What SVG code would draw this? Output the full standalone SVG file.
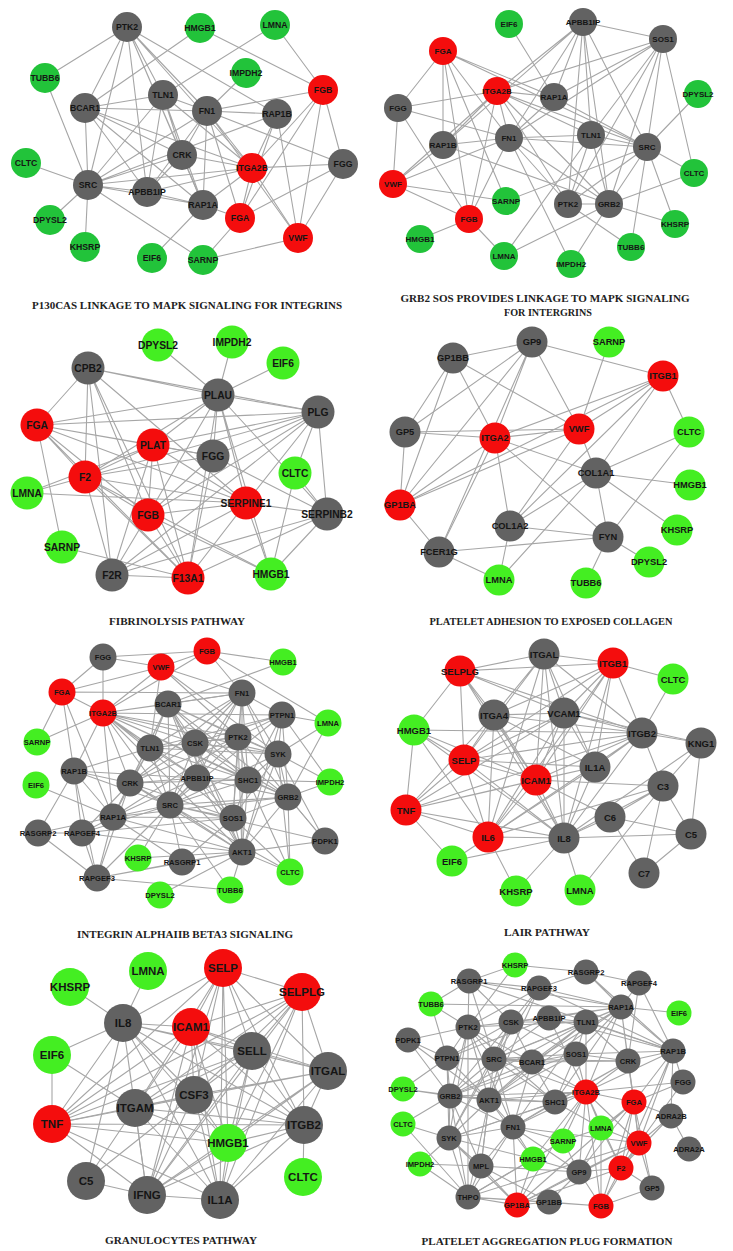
<svg xmlns="http://www.w3.org/2000/svg" width="733" height="1251" viewBox="0 0 733 1251">
<style>
.bg{fill:#ffffff}
.e path{stroke:#a6a6a6;stroke-width:1.1;fill:none}
.n text{font-family:"Liberation Sans",Arial,sans-serif;font-weight:bold;text-anchor:middle;dominant-baseline:central;fill:#151515}
.gy circle{fill:#626262}
.rd circle{fill:#f40d0d}
.gn circle{fill:#22c33a}
.gl circle{fill:#44ee22}
#p1 text{font-size:8.7px}
#p2 text{font-size:8px}
#p3 text{font-size:10.3px}
#p4 text{font-size:9.3px}
#p5 text{font-size:7.6px}
#p6 text{font-size:9.5px}
#p7 text{font-size:11.5px}
#p8 text{font-size:7.6px}
#p1 text.cap,#p2 text.cap,#p3 text.cap,#p4 text.cap,#p5 text.cap,#p6 text.cap,#p7 text.cap,#p8 text.cap{font-family:"Liberation Serif","Times New Roman",serif;font-weight:bold;font-size:11px;fill:#222;text-anchor:middle}
</style>
<rect class="bg" x="0" y="0" width="733" height="1251"/>

<!-- ===== Panel 1 ===== -->
<g id="p1">
<g id="p1-edges" class="e">
<path d="M127 27L45 78M127 27L85 108M127 27L88 185M127 27L147 192M127 27L163 95M127 27L182 155M127 27L207 111M127 27L277 114M127 27L252 168M127 27L203 205"/>
<path d="M200 28L85 108M200 28L323 90M275 25L323 90M275 25L163 95M246 73L207 111M323 90L207 111M323 90L252 168M323 90L240 218M323 90L298 238M323 90L343 164"/>
<path d="M85 108L163 95M85 108L207 111M85 108L88 185M85 108L182 155M85 108L147 192M85 108L252 168M85 108L203 205"/>
<path d="M163 95L207 111M163 95L182 155M163 95L88 185M163 95L147 192M163 95L203 205M163 95L252 168"/>
<path d="M207 111L277 114M207 111L182 155M207 111L88 185M207 111L252 168M207 111L240 218M207 111L343 164M207 111L298 238M207 111L203 205M207 111L147 192"/>
<path d="M277 114L88 185M277 114L252 168M277 114L240 218M277 114L298 238M182 155L88 185M182 155L147 192M182 155L203 205M182 155L252 168"/>
<path d="M252 168L88 185M252 168L147 192M252 168L240 218M252 168L298 238M252 168L343 164M252 168L203 205M343 164L240 218M343 164L298 238"/>
<path d="M88 185L26 163M88 185L50 220M88 185L85 247M88 185L45 78M88 185L147 192M88 185L203 205M88 185L203 260M203 205L152 258M203 205L240 218M147 192L203 205M240 218L203 260M298 238L203 260"/>
</g>
<g id="p1-PTK2" class="n gy"><circle cx="127" cy="27" r="15"/><text x="127" y="27">PTK2</text></g>
<g id="p1-HMGB1" class="n gn"><circle cx="200" cy="28" r="15"/><text x="200" y="28">HMGB1</text></g>
<g id="p1-LMNA" class="n gn"><circle cx="275" cy="25" r="15"/><text x="275" y="25">LMNA</text></g>
<g id="p1-TUBB6" class="n gn"><circle cx="45" cy="78" r="15"/><text x="45" y="78">TUBB6</text></g>
<g id="p1-IMPDH2" class="n gn"><circle cx="246" cy="73" r="15"/><text x="246" y="73">IMPDH2</text></g>
<g id="p1-FGB" class="n rd"><circle cx="323" cy="90" r="15"/><text x="323" y="90">FGB</text></g>
<g id="p1-TLN1" class="n gy"><circle cx="163" cy="95" r="15"/><text x="163" y="95">TLN1</text></g>
<g id="p1-BCAR1" class="n gy"><circle cx="85" cy="108" r="15"/><text x="85" y="108">BCAR1</text></g>
<g id="p1-FN1" class="n gy"><circle cx="207" cy="111" r="15"/><text x="207" y="111">FN1</text></g>
<g id="p1-RAP1B" class="n gy"><circle cx="277" cy="114" r="15"/><text x="277" y="114">RAP1B</text></g>
<g id="p1-CLTC" class="n gn"><circle cx="26" cy="163" r="15"/><text x="26" y="163">CLTC</text></g>
<g id="p1-CRK" class="n gy"><circle cx="182" cy="155" r="15"/><text x="182" y="155">CRK</text></g>
<g id="p1-ITGA2B" class="n rd"><circle cx="252" cy="168" r="15"/><text x="252" y="168">ITGA2B</text></g>
<g id="p1-FGG" class="n gy"><circle cx="343" cy="164" r="15"/><text x="343" y="164">FGG</text></g>
<g id="p1-SRC" class="n gy"><circle cx="88" cy="185" r="15"/><text x="88" y="185">SRC</text></g>
<g id="p1-APBB1IP" class="n gy"><circle cx="147" cy="192" r="15"/><text x="147" y="192">APBB1IP</text></g>
<g id="p1-RAP1A" class="n gy"><circle cx="203" cy="205" r="15"/><text x="203" y="205">RAP1A</text></g>
<g id="p1-FGA" class="n rd"><circle cx="240" cy="218" r="15"/><text x="240" y="218">FGA</text></g>
<g id="p1-DPYSL2" class="n gn"><circle cx="50" cy="220" r="15"/><text x="50" y="220">DPYSL2</text></g>
<g id="p1-VWF" class="n rd"><circle cx="298" cy="238" r="15"/><text x="298" y="238">VWF</text></g>
<g id="p1-KHSRP" class="n gn"><circle cx="85" cy="247" r="15"/><text x="85" y="247">KHSRP</text></g>
<g id="p1-EIF6" class="n gn"><circle cx="152" cy="258" r="15"/><text x="152" y="258">EIF6</text></g>
<g id="p1-SARNP" class="n gn"><circle cx="203" cy="260" r="15"/><text x="203" y="260">SARNP</text></g>
<text class="cap" x="187" y="309" textLength="310" lengthAdjust="spacingAndGlyphs">P130CAS LINKAGE TO MAPK SIGNALING FOR INTEGRINS</text>
</g>

<!-- ===== Panel 2 ===== -->
<g id="p2">
<g id="p2-edges" class="e">
<path d="M509 24L554 97M583 22L663 39M583 22L497 91M583 22L554 97M583 22L509 138M583 22L591 135M583 22L568 204M583 22L647 147M583 22L609 204M583 22L443 145"/>
<path d="M663 39L497 91M663 39L554 97M663 39L509 138M663 39L591 135M663 39L647 147M663 39L568 204M663 39L609 204M663 39L694 173"/>
<path d="M443 51L398 108M443 51L554 97M443 51L443 145M443 51L469 219M443 51L506 201M443 51L509 138M443 51L647 147"/>
<path d="M497 91L398 108M497 91L554 97M497 91L443 145M497 91L393 184M497 91L469 219M497 91L509 138M497 91L591 135M497 91L647 147M497 91L568 204M497 91L609 204"/>
<path d="M554 97L509 138M554 97L647 147M398 108L509 138M398 108L393 184M398 108L469 219M443 145L509 138M443 145L393 184M443 145L609 204"/>
<path d="M509 138L393 184M509 138L591 135M509 138L647 147M509 138L568 204M509 138L609 204M509 138L469 219M509 138L571 264"/>
<path d="M591 135L647 147M591 135L568 204M591 135L609 204M591 135L504 256"/>
<path d="M647 147L698 94M647 147L694 173M647 147L675 224M647 147L631 247M647 147L568 204M647 147L609 204M647 147L506 201"/>
<path d="M393 184L506 201M393 184L469 219M568 204L609 204M568 204L631 247M609 204L504 256M609 204L571 264M609 204L675 224M609 204L694 173M469 219L420 239M469 219L504 256"/>
</g>
<g id="p2-EIF6" class="n gn"><circle cx="509" cy="24" r="14"/><text x="509" y="24">EIF6</text></g>
<g id="p2-APBB1IP" class="n gy"><circle cx="583" cy="22" r="14"/><text x="583" y="22">APBB1IP</text></g>
<g id="p2-SOS1" class="n gy"><circle cx="663" cy="39" r="14"/><text x="663" y="39">SOS1</text></g>
<g id="p2-FGA" class="n rd"><circle cx="443" cy="51" r="14"/><text x="443" y="51">FGA</text></g>
<g id="p2-ITGA2B" class="n rd"><circle cx="497" cy="91" r="14"/><text x="497" y="91">ITGA2B</text></g>
<g id="p2-RAP1A" class="n gy"><circle cx="554" cy="97" r="14"/><text x="554" y="97">RAP1A</text></g>
<g id="p2-DPYSL2" class="n gn"><circle cx="698" cy="94" r="14"/><text x="698" y="94">DPYSL2</text></g>
<g id="p2-FGG" class="n gy"><circle cx="398" cy="108" r="14"/><text x="398" y="108">FGG</text></g>
<g id="p2-RAP1B" class="n gy"><circle cx="443" cy="145" r="14"/><text x="443" y="145">RAP1B</text></g>
<g id="p2-FN1" class="n gy"><circle cx="509" cy="138" r="14"/><text x="509" y="138">FN1</text></g>
<g id="p2-TLN1" class="n gy"><circle cx="591" cy="135" r="14"/><text x="591" y="135">TLN1</text></g>
<g id="p2-SRC" class="n gy"><circle cx="647" cy="147" r="14"/><text x="647" y="147">SRC</text></g>
<g id="p2-CLTC" class="n gn"><circle cx="694" cy="173" r="14"/><text x="694" y="173">CLTC</text></g>
<g id="p2-VWF" class="n rd"><circle cx="393" cy="184" r="14"/><text x="393" y="184">VWF</text></g>
<g id="p2-SARNP" class="n gn"><circle cx="506" cy="201" r="14"/><text x="506" y="201">SARNP</text></g>
<g id="p2-PTK2" class="n gy"><circle cx="568" cy="204" r="14"/><text x="568" y="204">PTK2</text></g>
<g id="p2-GRB2" class="n gy"><circle cx="609" cy="204" r="14"/><text x="609" y="204">GRB2</text></g>
<g id="p2-FGB" class="n rd"><circle cx="469" cy="219" r="14"/><text x="469" y="219">FGB</text></g>
<g id="p2-KHSRP" class="n gn"><circle cx="675" cy="224" r="14"/><text x="675" y="224">KHSRP</text></g>
<g id="p2-HMGB1" class="n gn"><circle cx="420" cy="239" r="14"/><text x="420" y="239">HMGB1</text></g>
<g id="p2-TUBB6" class="n gn"><circle cx="631" cy="247" r="14"/><text x="631" y="247">TUBB6</text></g>
<g id="p2-LMNA" class="n gn"><circle cx="504" cy="256" r="14"/><text x="504" y="256">LMNA</text></g>
<g id="p2-IMPDH2" class="n gn"><circle cx="571" cy="264" r="14"/><text x="571" y="264">IMPDH2</text></g>
<text class="cap" x="545" y="301.5" textLength="289" lengthAdjust="spacingAndGlyphs">GRB2 SOS PROVIDES LINKAGE TO MAPK SIGNALING</text>
<text class="cap" x="548" y="315.5" textLength="88" lengthAdjust="spacingAndGlyphs">FOR INTERGRINS</text>
</g>

<!-- ===== Panel 3 ===== -->
<g id="p3">
<g id="p3-edges" class="e">
<path d="M158 345L218 395M232 342L218 395M283 363L218 395"/>
<path d="M88 368L218 395M88 368L318 412M88 368L37 425M88 368L85 477M88 368L148 515M88 368L188 578M88 368L246 503M88 368L112 575"/>
<path d="M218 395L37 425M218 395L318 412M218 395L153 445M218 395L213 456M218 395L85 477M218 395L148 515M218 395L246 503M218 395L188 578M218 395L271 574M218 395L327 514"/>
<path d="M318 412L37 425M318 412L153 445M318 412L85 477M318 412L148 515M318 412L246 503M318 412L295 473M318 412L327 514M318 412L112 575M318 412L213 456"/>
<path d="M37 425L153 445M37 425L85 477M37 425L148 515M37 425L246 503M37 425L188 578M37 425L62 547M37 425L213 456"/>
<path d="M153 445L85 477M153 445L213 456M153 445L148 515M153 445L246 503M153 445L188 578M153 445L112 575M153 445L27 493"/>
<path d="M213 456L85 477M213 456L148 515M213 456L188 578M213 456L327 514M295 473L271 574M295 473L327 514"/>
<path d="M85 477L27 493M85 477L148 515M85 477L188 578M85 477L112 575M85 477L246 503M85 477L271 574M27 493L246 503"/>
<path d="M246 503L148 515M246 503L188 578M246 503L112 575M246 503L271 574M246 503L327 514M148 515L188 578M148 515L112 575M148 515L271 574"/>
<path d="M327 514L271 574M327 514L188 578M327 514L112 575M62 547L188 578M112 575L188 578"/>
</g>
<g id="p3-DPYSL2" class="n gl"><circle cx="158" cy="345" r="16.5"/><text x="158" y="345">DPYSL2</text></g>
<g id="p3-IMPDH2" class="n gl"><circle cx="232" cy="342" r="16.5"/><text x="232" y="342">IMPDH2</text></g>
<g id="p3-EIF6" class="n gl"><circle cx="283" cy="363" r="16.5"/><text x="283" y="363">EIF6</text></g>
<g id="p3-CPB2" class="n gy"><circle cx="88" cy="368" r="16.5"/><text x="88" y="368">CPB2</text></g>
<g id="p3-PLAU" class="n gy"><circle cx="218" cy="395" r="16.5"/><text x="218" y="395">PLAU</text></g>
<g id="p3-PLG" class="n gy"><circle cx="318" cy="412" r="16.5"/><text x="318" y="412">PLG</text></g>
<g id="p3-FGA" class="n rd"><circle cx="37" cy="425" r="16.5"/><text x="37" y="425">FGA</text></g>
<g id="p3-PLAT" class="n rd"><circle cx="153" cy="445" r="16.5"/><text x="153" y="445">PLAT</text></g>
<g id="p3-FGG" class="n gy"><circle cx="213" cy="456" r="16.5"/><text x="213" y="456">FGG</text></g>
<g id="p3-CLTC" class="n gl"><circle cx="295" cy="473" r="16.5"/><text x="295" y="473">CLTC</text></g>
<g id="p3-F2" class="n rd"><circle cx="85" cy="477" r="16.5"/><text x="85" y="477">F2</text></g>
<g id="p3-LMNA" class="n gl"><circle cx="27" cy="493" r="16.5"/><text x="27" y="493">LMNA</text></g>
<g id="p3-SERPINE1" class="n rd"><circle cx="246" cy="503" r="16.5"/><text x="246" y="503">SERPINE1</text></g>
<g id="p3-FGB" class="n rd"><circle cx="148" cy="515" r="16.5"/><text x="148" y="515">FGB</text></g>
<g id="p3-SERPINB2" class="n gy"><circle cx="327" cy="514" r="16.5"/><text x="327" y="514">SERPINB2</text></g>
<g id="p3-SARNP" class="n gl"><circle cx="62" cy="547" r="16.5"/><text x="62" y="547">SARNP</text></g>
<g id="p3-F2R" class="n gy"><circle cx="112" cy="575" r="16.5"/><text x="112" y="575">F2R</text></g>
<g id="p3-F13A1" class="n rd"><circle cx="188" cy="578" r="16.5"/><text x="188" y="578">F13A1</text></g>
<g id="p3-HMGB1" class="n gl"><circle cx="271" cy="574" r="16.5"/><text x="271" y="574">HMGB1</text></g>
<text class="cap" x="177" y="624.5" textLength="136" lengthAdjust="spacingAndGlyphs">FIBRINOLYSIS PATHWAY</text>
</g>

<!-- ===== Panel 4 ===== -->
<g id="p4">
<g id="p4-edges" class="e">
<path d="M532 342L453 358M532 342L663 376M532 342L405 432M532 342L495 438M532 342L579 429M532 342L400 505M532 342L439 552"/>
<path d="M453 358L405 432M453 358L400 505M453 358L495 438M453 358L579 429M609 342L579 429"/>
<path d="M663 376L579 429M663 376L495 438M663 376L400 505M663 376L596 473M663 376L510 526M663 376L689 432"/>
<path d="M405 432L579 429M405 432L495 438M405 432L400 505"/>
<path d="M495 438L579 429M495 438L596 473M495 438L510 526M495 438L608 537M495 438L400 505M495 438L439 552"/>
<path d="M579 429L400 505M579 429L596 473M579 429L510 526M689 432L596 473M689 432L608 537"/>
<path d="M596 473L690 485M596 473L677 530M596 473L608 537M596 473L510 526M596 473L499 580"/>
<path d="M400 505L439 552M510 526L608 537M510 526L499 580M608 537L439 552M608 537L649 562M608 537L586 583M439 552L499 580"/>
</g>
<g id="p4-GP9" class="n gy"><circle cx="532" cy="342" r="15.5"/><text x="532" y="342">GP9</text></g>
<g id="p4-SARNP" class="n gl"><circle cx="609" cy="342" r="15.5"/><text x="609" y="342">SARNP</text></g>
<g id="p4-GP1BB" class="n gy"><circle cx="453" cy="358" r="15.5"/><text x="453" y="358">GP1BB</text></g>
<g id="p4-ITGB1" class="n rd"><circle cx="663" cy="376" r="15.5"/><text x="663" y="376">ITGB1</text></g>
<g id="p4-GP5" class="n gy"><circle cx="405" cy="432" r="15.5"/><text x="405" y="432">GP5</text></g>
<g id="p4-ITGA2" class="n rd"><circle cx="495" cy="438" r="15.5"/><text x="495" y="438">ITGA2</text></g>
<g id="p4-VWF" class="n rd"><circle cx="579" cy="429" r="15.5"/><text x="579" y="429">VWF</text></g>
<g id="p4-CLTC" class="n gl"><circle cx="689" cy="432" r="15.5"/><text x="689" y="432">CLTC</text></g>
<g id="p4-COL1A1" class="n gy"><circle cx="596" cy="473" r="15.5"/><text x="596" y="473">COL1A1</text></g>
<g id="p4-HMGB1" class="n gl"><circle cx="690" cy="485" r="15.5"/><text x="690" y="485">HMGB1</text></g>
<g id="p4-GP1BA" class="n rd"><circle cx="400" cy="505" r="15.5"/><text x="400" y="505">GP1BA</text></g>
<g id="p4-COL1A2" class="n gy"><circle cx="510" cy="526" r="15.5"/><text x="510" y="526">COL1A2</text></g>
<g id="p4-FYN" class="n gy"><circle cx="608" cy="537" r="15.5"/><text x="608" y="537">FYN</text></g>
<g id="p4-KHSRP" class="n gl"><circle cx="677" cy="530" r="15.5"/><text x="677" y="530">KHSRP</text></g>
<g id="p4-FCER1G" class="n gy"><circle cx="439" cy="552" r="15.5"/><text x="439" y="552">FCER1G</text></g>
<g id="p4-DPYSL2" class="n gl"><circle cx="649" cy="562" r="15.5"/><text x="649" y="562">DPYSL2</text></g>
<g id="p4-LMNA" class="n gl"><circle cx="499" cy="580" r="15.5"/><text x="499" y="580">LMNA</text></g>
<g id="p4-TUBB6" class="n gl"><circle cx="586" cy="583" r="15.5"/><text x="586" y="583">TUBB6</text></g>
<text class="cap" x="551" y="624.5" textLength="243" lengthAdjust="spacingAndGlyphs">PLATELET ADHESION TO EXPOSED COLLAGEN</text>
</g>

<!-- ===== Panel 5 ===== -->
<g id="p5">
<g id="p5-edges" class="e">
<path d="M103 657L161 667M103 657L207 651M103 657L62 692M103 657L103 713M161 667L207 651M161 667L62 692M161 667L103 713M161 667L242 693M161 667L238 737M161 667L150 748M161 667L278 754"/>
<path d="M207 651L103 713M207 651L242 693M207 651L283 662M207 651L328 723M283 662L168 704M62 692L103 713M62 692L242 693M62 692L37 742M62 692L74 771M62 692L113 817"/>
<path d="M103 713L37 742M103 713L74 771M103 713L168 704M103 713L150 748M103 713L130 783M103 713L195 743M103 713L238 737M103 713L170 805M103 713L248 780M103 713L197 778M103 713L242 693M103 713L282 715M103 713L278 754M103 713L113 817M103 713L233 818M103 713L242 852M103 713L288 797"/>
<path d="M242 693L168 704M242 693L282 715M242 693L238 737M242 693L278 754M242 693L195 743M242 693L150 748M242 693L170 805M242 693L248 780M242 693L288 797M242 693L242 852M242 693L233 818M242 693L130 783M242 693L197 778"/>
<path d="M168 704L150 748M168 704L195 743M168 704L238 737M168 704L130 783M168 704L197 778M168 704L170 805M168 704L248 780M168 704L233 818M168 704L288 797M168 704L242 852M168 704L113 817M168 704L278 754"/>
<path d="M282 715L238 737M282 715L278 754M282 715L170 805M282 715L288 797M282 715L242 852M282 715L248 780M282 715L195 743M282 715L150 748M282 715L330 782M282 715L328 723M328 723L278 754M328 723L288 797"/>
<path d="M150 748L195 743M150 748L238 737M150 748L130 783M150 748L197 778M150 748L170 805M150 748L113 817M150 748L74 771M150 748L278 754M150 748L248 780"/>
<path d="M195 743L238 737M195 743L278 754M195 743L170 805M195 743L248 780M195 743L197 778M195 743L130 783M195 743L288 797M195 743L242 852"/>
<path d="M238 737L278 754M238 737L248 780M238 737L170 805M238 737L197 778M238 737L288 797M238 737L233 818M238 737L242 852M238 737L130 783M238 737L113 817M238 737L325 841"/>
<path d="M278 754L248 780M278 754L288 797M278 754L242 852M278 754L170 805M278 754L330 782M278 754L290 872M278 754L233 818M278 754L325 841"/>
<path d="M74 771L130 783M74 771L113 817M74 771L38 833M74 771L82 833M74 771L97 878M74 771L170 805M74 771L197 778"/>
<path d="M130 783L197 778M130 783L170 805M130 783L113 817M130 783L233 818M130 783L242 852M130 783L97 878M130 783L248 780M130 783L82 833"/>
<path d="M197 778L248 780M197 778L170 805M197 778L113 817M197 778L233 818M197 778L242 852M197 778L288 797"/>
<path d="M248 780L170 805M248 780L288 797M248 780L233 818M248 780L242 852M248 780L290 872M248 780L330 782"/>
<path d="M170 805L288 797M170 805L113 817M170 805L233 818M170 805L242 852M170 805L182 862M170 805L138 858M170 805L230 890M170 805L82 833M170 805L97 878M170 805L325 841M170 805L290 872"/>
<path d="M288 797L233 818M288 797L242 852M288 797L325 841M288 797L290 872M288 797L330 782M288 797L113 817"/>
<path d="M113 817L233 818M113 817L82 833M113 817L38 833M113 817L97 878M113 817L182 862M113 817L242 852M113 817L36 785"/>
<path d="M233 818L242 852M233 818L182 862M233 818L82 833M233 818L290 872M38 833L82 833M38 833L97 878M82 833L97 878M82 833L242 852M325 841L242 852"/>
<path d="M242 852L182 862M242 852L290 872M242 852L230 890M242 852L160 895M242 852L97 878M242 852L138 858M182 862L97 878M97 878L230 890"/>
</g>
<g id="p5-FGG" class="n gy"><circle cx="103" cy="657" r="13.5"/><text x="103" y="657">FGG</text></g>
<g id="p5-VWF" class="n rd"><circle cx="161" cy="667" r="13.5"/><text x="161" y="667">VWF</text></g>
<g id="p5-FGB" class="n rd"><circle cx="207" cy="651" r="13.5"/><text x="207" y="651">FGB</text></g>
<g id="p5-HMGB1" class="n gl"><circle cx="283" cy="662" r="13.5"/><text x="283" y="662">HMGB1</text></g>
<g id="p5-FGA" class="n rd"><circle cx="62" cy="692" r="13.5"/><text x="62" y="692">FGA</text></g>
<g id="p5-FN1" class="n gy"><circle cx="242" cy="693" r="13.5"/><text x="242" y="693">FN1</text></g>
<g id="p5-BCAR1" class="n gy"><circle cx="168" cy="704" r="13.5"/><text x="168" y="704">BCAR1</text></g>
<g id="p5-ITGA2B" class="n rd"><circle cx="103" cy="713" r="13.5"/><text x="103" y="713">ITGA2B</text></g>
<g id="p5-PTPN1" class="n gy"><circle cx="282" cy="715" r="13.5"/><text x="282" y="715">PTPN1</text></g>
<g id="p5-LMNA" class="n gl"><circle cx="328" cy="723" r="13.5"/><text x="328" y="723">LMNA</text></g>
<g id="p5-SARNP" class="n gl"><circle cx="37" cy="742" r="13.5"/><text x="37" y="742">SARNP</text></g>
<g id="p5-TLN1" class="n gy"><circle cx="150" cy="748" r="13.5"/><text x="150" y="748">TLN1</text></g>
<g id="p5-CSK" class="n gy"><circle cx="195" cy="743" r="13.5"/><text x="195" y="743">CSK</text></g>
<g id="p5-PTK2" class="n gy"><circle cx="238" cy="737" r="13.5"/><text x="238" y="737">PTK2</text></g>
<g id="p5-SYK" class="n gy"><circle cx="278" cy="754" r="13.5"/><text x="278" y="754">SYK</text></g>
<g id="p5-RAP1B" class="n gy"><circle cx="74" cy="771" r="13.5"/><text x="74" y="771">RAP1B</text></g>
<g id="p5-EIF6" class="n gl"><circle cx="36" cy="785" r="13.5"/><text x="36" y="785">EIF6</text></g>
<g id="p5-CRK" class="n gy"><circle cx="130" cy="783" r="13.5"/><text x="130" y="783">CRK</text></g>
<g id="p5-APBB1IP" class="n gy"><circle cx="197" cy="778" r="13.5"/><text x="197" y="778">APBB1IP</text></g>
<g id="p5-SHC1" class="n gy"><circle cx="248" cy="780" r="13.5"/><text x="248" y="780">SHC1</text></g>
<g id="p5-IMPDH2" class="n gl"><circle cx="330" cy="782" r="13.5"/><text x="330" y="782">IMPDH2</text></g>
<g id="p5-SRC" class="n gy"><circle cx="170" cy="805" r="13.5"/><text x="170" y="805">SRC</text></g>
<g id="p5-GRB2" class="n gy"><circle cx="288" cy="797" r="13.5"/><text x="288" y="797">GRB2</text></g>
<g id="p5-RAP1A" class="n gy"><circle cx="113" cy="817" r="13.5"/><text x="113" y="817">RAP1A</text></g>
<g id="p5-SOS1" class="n gy"><circle cx="233" cy="818" r="13.5"/><text x="233" y="818">SOS1</text></g>
<g id="p5-RASGRP2" class="n gy"><circle cx="38" cy="833" r="13.5"/><text x="38" y="833">RASGRP2</text></g>
<g id="p5-RAPGEF4" class="n gy"><circle cx="82" cy="833" r="13.5"/><text x="82" y="833">RAPGEF4</text></g>
<g id="p5-PDPK1" class="n gy"><circle cx="325" cy="841" r="13.5"/><text x="325" y="841">PDPK1</text></g>
<g id="p5-AKT1" class="n gy"><circle cx="242" cy="852" r="13.5"/><text x="242" y="852">AKT1</text></g>
<g id="p5-KHSRP" class="n gl"><circle cx="138" cy="858" r="13.5"/><text x="138" y="858">KHSRP</text></g>
<g id="p5-RASGRP1" class="n gy"><circle cx="182" cy="862" r="13.5"/><text x="182" y="862">RASGRP1</text></g>
<g id="p5-CLTC" class="n gl"><circle cx="290" cy="872" r="13.5"/><text x="290" y="872">CLTC</text></g>
<g id="p5-RAPGEF3" class="n gy"><circle cx="97" cy="878" r="13.5"/><text x="97" y="878">RAPGEF3</text></g>
<g id="p5-DPYSL2" class="n gl"><circle cx="160" cy="895" r="13.5"/><text x="160" y="895">DPYSL2</text></g>
<g id="p5-TUBB6" class="n gl"><circle cx="230" cy="890" r="13.5"/><text x="230" y="890">TUBB6</text></g>
<text class="cap" x="185" y="937.5" textLength="216" lengthAdjust="spacingAndGlyphs">INTEGRIN ALPHAIIB BETA3 SIGNALING</text>
</g>

<!-- ===== Panel 6 ===== -->
<g id="p6">
<g id="p6-edges" class="e">
<path d="M544 654L460 671M544 654L613 663M544 654L494 715M544 654L564 713M544 654L642 733M544 654L536 780M544 654L595 767M544 654L564 838M544 654L488 837M544 654L464 760"/>
<path d="M613 663L460 671M613 663L673 679M613 663L494 715M613 663L564 713M613 663L642 733M613 663L536 780M613 663L595 767M613 663L564 838M613 663L488 837M613 663L464 760"/>
<path d="M460 671L414 730M460 671L494 715M460 671L464 760M460 671L564 713M460 671L642 733M460 671L536 780M460 671L564 838M673 679L642 733"/>
<path d="M494 715L564 713M494 715L642 733M494 715L464 760M494 715L536 780M494 715L488 837M494 715L564 838M494 715L406 810M494 715L595 767"/>
<path d="M564 713L642 733M564 713L464 760M564 713L536 780M564 713L488 837M564 713L564 838M564 713L406 810M564 713L595 767M564 713L701 743"/>
<path d="M414 730L642 733M414 730L464 760M414 730L406 810M414 730L536 780M414 730L488 837M414 730L564 838"/>
<path d="M642 733L701 743M642 733L464 760M642 733L536 780M642 733L595 767M642 733L663 786M642 733L488 837M642 733L564 838M642 733L406 810"/>
<path d="M701 743L663 786M701 743L691 834M701 743L564 838M464 760L406 810M464 760L536 780M464 760L488 837M464 760L564 838M464 760L595 767"/>
<path d="M595 767L536 780M595 767L488 837M595 767L564 838M595 767L406 810M536 780L406 810M536 780L488 837M536 780L564 838M536 780L610 817M536 780L663 786"/>
<path d="M663 786L610 817M663 786L691 834M663 786L644 873M663 786L564 838M663 786L580 890M663 786L488 837M406 810L488 837M406 810L452 861M406 810L564 838"/>
<path d="M610 817L691 834M610 817L644 873M610 817L564 838M488 837L452 861M488 837L516 891M488 837L564 838M564 838L691 834M564 838L516 891M564 838L580 890M564 838L452 861M691 834L644 873"/>
</g>
<g id="p6-ITGAL" class="n gy"><circle cx="544" cy="654" r="15.5"/><text x="544" y="654">ITGAL</text></g>
<g id="p6-ITGB1" class="n rd"><circle cx="613" cy="663" r="15.5"/><text x="613" y="663">ITGB1</text></g>
<g id="p6-SELPLG" class="n rd"><circle cx="460" cy="671" r="15.5"/><text x="460" y="671">SELPLG</text></g>
<g id="p6-CLTC" class="n gl"><circle cx="673" cy="679" r="15.5"/><text x="673" y="679">CLTC</text></g>
<g id="p6-ITGA4" class="n gy"><circle cx="494" cy="715" r="15.5"/><text x="494" y="715">ITGA4</text></g>
<g id="p6-VCAM1" class="n gy"><circle cx="564" cy="713" r="15.5"/><text x="564" y="713">VCAM1</text></g>
<g id="p6-HMGB1" class="n gl"><circle cx="414" cy="730" r="15.5"/><text x="414" y="730">HMGB1</text></g>
<g id="p6-ITGB2" class="n gy"><circle cx="642" cy="733" r="15.5"/><text x="642" y="733">ITGB2</text></g>
<g id="p6-KNG1" class="n gy"><circle cx="701" cy="743" r="15.5"/><text x="701" y="743">KNG1</text></g>
<g id="p6-SELP" class="n rd"><circle cx="464" cy="760" r="15.5"/><text x="464" y="760">SELP</text></g>
<g id="p6-IL1A" class="n gy"><circle cx="595" cy="767" r="15.5"/><text x="595" y="767">IL1A</text></g>
<g id="p6-ICAM1" class="n rd"><circle cx="536" cy="780" r="15.5"/><text x="536" y="780">ICAM1</text></g>
<g id="p6-C3" class="n gy"><circle cx="663" cy="786" r="15.5"/><text x="663" y="786">C3</text></g>
<g id="p6-TNF" class="n rd"><circle cx="406" cy="810" r="15.5"/><text x="406" y="810">TNF</text></g>
<g id="p6-C6" class="n gy"><circle cx="610" cy="817" r="15.5"/><text x="610" y="817">C6</text></g>
<g id="p6-IL6" class="n rd"><circle cx="488" cy="837" r="15.5"/><text x="488" y="837">IL6</text></g>
<g id="p6-IL8" class="n gy"><circle cx="564" cy="838" r="15.5"/><text x="564" y="838">IL8</text></g>
<g id="p6-C5" class="n gy"><circle cx="691" cy="834" r="15.5"/><text x="691" y="834">C5</text></g>
<g id="p6-EIF6" class="n gl"><circle cx="452" cy="861" r="15.5"/><text x="452" y="861">EIF6</text></g>
<g id="p6-C7" class="n gy"><circle cx="644" cy="873" r="15.5"/><text x="644" y="873">C7</text></g>
<g id="p6-KHSRP" class="n gl"><circle cx="516" cy="891" r="15.5"/><text x="516" y="891">KHSRP</text></g>
<g id="p6-LMNA" class="n gl"><circle cx="580" cy="890" r="15.5"/><text x="580" y="890">LMNA</text></g>
<text class="cap" x="547" y="935.5" textLength="86" lengthAdjust="spacingAndGlyphs">LAIR PATHWAY</text>
</g>

<!-- ===== Panel 7 ===== -->
<g id="p7">
<g id="p7-edges" class="e">
<path d="M148 971L123 1023M70 987L123 1023M52 1055L123 1023M52 1055L52 1124M52 1055L135 1108"/>
<path d="M223 968L123 1023M223 968L191 1027M223 968L252 1051M223 968L302 992M223 968L194 1095M223 968L135 1108M223 968L228 1143M223 968L220 1200M223 968L147 1195M223 968L304 1125M223 968L328 1071M223 968L52 1124"/>
<path d="M302 992L252 1051M302 992L328 1071M302 992L194 1095M302 992L135 1108M302 992L228 1143M302 992L220 1200M302 992L147 1195M302 992L304 1125M302 992L52 1124M302 992L191 1027"/>
<path d="M123 1023L191 1027M123 1023L252 1051M123 1023L328 1071M123 1023L194 1095M123 1023L135 1108M123 1023L52 1124M123 1023L304 1125M123 1023L228 1143M123 1023L147 1195M123 1023L86 1181M123 1023L220 1200"/>
<path d="M191 1027L252 1051M191 1027L328 1071M191 1027L194 1095M191 1027L135 1108M191 1027L52 1124M191 1027L304 1125M191 1027L228 1143M191 1027L147 1195M191 1027L220 1200"/>
<path d="M252 1051L328 1071M252 1051L194 1095M252 1051L135 1108M252 1051L304 1125M252 1051L228 1143M252 1051L147 1195M252 1051L220 1200M252 1051L52 1124"/>
<path d="M328 1071L194 1095M328 1071L135 1108M328 1071L304 1125M328 1071L228 1143M328 1071L147 1195M328 1071L220 1200"/>
<path d="M194 1095L135 1108M194 1095L52 1124M194 1095L304 1125M194 1095L228 1143M194 1095L147 1195M194 1095L220 1200M194 1095L86 1181"/>
<path d="M135 1108L52 1124M135 1108L304 1125M135 1108L228 1143M135 1108L147 1195M135 1108L220 1200M135 1108L86 1181"/>
<path d="M52 1124L228 1143M52 1124L147 1195M52 1124L220 1200M52 1124L304 1125M304 1125L228 1143M304 1125L303 1177M304 1125L220 1200M304 1125L147 1195"/>
<path d="M228 1143L147 1195M228 1143L220 1200M86 1181L147 1195M147 1195L220 1200"/>
</g>
<g id="p7-SELP" class="n rd"><circle cx="223" cy="968" r="19"/><text x="223" y="968">SELP</text></g>
<g id="p7-LMNA" class="n gl"><circle cx="148" cy="971" r="19"/><text x="148" y="971">LMNA</text></g>
<g id="p7-KHSRP" class="n gl"><circle cx="70" cy="987" r="19"/><text x="70" y="987">KHSRP</text></g>
<g id="p7-SELPLG" class="n rd"><circle cx="302" cy="992" r="19"/><text x="302" y="992">SELPLG</text></g>
<g id="p7-IL8" class="n gy"><circle cx="123" cy="1023" r="19"/><text x="123" y="1023">IL8</text></g>
<g id="p7-ICAM1" class="n rd"><circle cx="191" cy="1027" r="19"/><text x="191" y="1027">ICAM1</text></g>
<g id="p7-SELL" class="n gy"><circle cx="252" cy="1051" r="19"/><text x="252" y="1051">SELL</text></g>
<g id="p7-EIF6" class="n gl"><circle cx="52" cy="1055" r="19"/><text x="52" y="1055">EIF6</text></g>
<g id="p7-ITGAL" class="n gy"><circle cx="328" cy="1071" r="19"/><text x="328" y="1071">ITGAL</text></g>
<g id="p7-CSF3" class="n gy"><circle cx="194" cy="1095" r="19"/><text x="194" y="1095">CSF3</text></g>
<g id="p7-ITGAM" class="n gy"><circle cx="135" cy="1108" r="19"/><text x="135" y="1108">ITGAM</text></g>
<g id="p7-TNF" class="n rd"><circle cx="52" cy="1124" r="19"/><text x="52" y="1124">TNF</text></g>
<g id="p7-ITGB2" class="n gy"><circle cx="304" cy="1125" r="19"/><text x="304" y="1125">ITGB2</text></g>
<g id="p7-HMGB1" class="n gl"><circle cx="228" cy="1143" r="19"/><text x="228" y="1143">HMGB1</text></g>
<g id="p7-CLTC" class="n gl"><circle cx="303" cy="1177" r="19"/><text x="303" y="1177">CLTC</text></g>
<g id="p7-C5" class="n gy"><circle cx="86" cy="1181" r="19"/><text x="86" y="1181">C5</text></g>
<g id="p7-IFNG" class="n gy"><circle cx="147" cy="1195" r="19"/><text x="147" y="1195">IFNG</text></g>
<g id="p7-IL1A" class="n gy"><circle cx="220" cy="1200" r="19"/><text x="220" y="1200">IL1A</text></g>
<text class="cap" x="181" y="1243.5" textLength="152" lengthAdjust="spacingAndGlyphs">GRANULOCYTES PATHWAY</text>
</g>

<!-- ===== Panel 8 ===== -->
<g id="p8">
<g id="p8-edges" class="e">
<path d="M515 965L586 972M515 965L469 981M515 965L468 1027M586 972L539 988M586 972L639 983M586 972L621 1007M586 972L673 1051"/>
<path d="M469 981L539 988M469 981L621 1007M469 981L468 1027M469 981L494 1059M469 981L673 1051M469 981L511 1022M469 981L431 1004"/>
<path d="M539 988L621 1007M539 988L673 1051M539 988L511 1022M539 988L468 1027M539 988L494 1059M539 988L489 1100M639 983L621 1007M639 983L673 1051M639 983L628 1061"/>
<path d="M431 1004L621 1007M431 1004L468 1027M431 1004L447 1058"/>
<path d="M621 1007L679 1013M621 1007L586 1022M621 1007L549 1018M621 1007L628 1061M621 1007L673 1051M621 1007L576 1054M621 1007L532 1062M621 1007L586 1092M621 1007L494 1059M621 1007L511 1022M621 1007L634 1102M621 1007L555 1102M621 1007L639 1143M621 1007L489 1100"/>
<path d="M586 1022L549 1018M586 1022L511 1022M586 1022L468 1027M586 1022L494 1059M586 1022L532 1062M586 1022L576 1054M586 1022L628 1061M586 1022L586 1092M586 1022L513 1127M586 1022L489 1100M586 1022L673 1051M586 1022L450 1096"/>
<path d="M549 1018L511 1022M549 1018L494 1059M549 1018L586 1092M549 1018L673 1051M549 1018L447 1058"/>
<path d="M511 1022L468 1027M511 1022L494 1059M511 1022L532 1062M511 1022L576 1054M511 1022L449 1138M511 1022L489 1100M511 1022L450 1096M511 1022L447 1058"/>
<path d="M468 1027L408 1040M468 1027L447 1058M468 1027L494 1059M468 1027L532 1062M468 1027L450 1096M468 1027L489 1100M468 1027L449 1138M468 1027L555 1102M468 1027L513 1127M468 1027L468 1197"/>
<path d="M408 1040L447 1058M408 1040L489 1100M408 1040L450 1096"/>
<path d="M673 1051L628 1061M673 1051L683 1082M673 1051L586 1092M673 1051L634 1102M673 1051L639 1143M673 1051L576 1054M673 1051L621 1168M673 1051L671 1116"/>
<path d="M447 1058L494 1059M447 1058L450 1096M447 1058L489 1100M447 1058L449 1138M447 1058L403 1089M447 1058L532 1062"/>
<path d="M494 1059L532 1062M494 1059L450 1096M494 1059L489 1100M494 1059L555 1102M494 1059L449 1138M494 1059L576 1054M494 1059L513 1127M494 1059L586 1092M494 1059L628 1061M494 1059L481 1166"/>
<path d="M576 1054L532 1062M576 1054L628 1061M576 1054L450 1096M576 1054L555 1102M576 1054L489 1100M576 1054L586 1092"/>
<path d="M532 1062L628 1061M532 1062L555 1102M532 1062L489 1100M532 1062L513 1127M532 1062L586 1092M532 1062L450 1096"/>
<path d="M628 1061L586 1092M628 1061L555 1102M628 1061L513 1127M628 1061L634 1102M683 1082L586 1092M683 1082L634 1102M683 1082L639 1143M683 1082L621 1168M403 1089L450 1096M403 1089L489 1100"/>
<path d="M586 1092L555 1102M586 1092L634 1102M586 1092L489 1100M586 1092L513 1127M586 1092L601 1128M586 1092L639 1143M586 1092L621 1168M586 1092L579 1172M586 1092L517 1205M586 1092L601 1206M586 1092L563 1141M586 1092L533 1159M586 1092L449 1138M586 1092L450 1096"/>
<path d="M450 1096L489 1100M450 1096L449 1138M450 1096L403 1124M450 1096L555 1102M450 1096L513 1127M450 1096L481 1166M450 1096L468 1197"/>
<path d="M489 1100L555 1102M489 1100L449 1138M489 1100L513 1127M489 1100L481 1166M489 1100L468 1197M489 1100L533 1159M555 1102L513 1127M555 1102L601 1128M555 1102L449 1138"/>
<path d="M634 1102L671 1116M634 1102L639 1143M634 1102L621 1168M634 1102L579 1172M634 1102L601 1206M634 1102L517 1205M634 1102L652 1188M634 1102L601 1128"/>
<path d="M671 1116L689 1149M671 1116L639 1143M671 1116L621 1168M403 1124L449 1138M403 1124L468 1197"/>
<path d="M513 1127L563 1141M513 1127L533 1159M513 1127L481 1166M513 1127L449 1138M513 1127L517 1205M513 1127L468 1197M513 1127L579 1172M513 1127L639 1143"/>
<path d="M601 1128L563 1141M601 1128L639 1143M601 1128L621 1168M601 1128L579 1172M601 1128L601 1206"/>
<path d="M449 1138L481 1166M449 1138L468 1197M449 1138L420 1164M449 1138L517 1205M449 1138L533 1159M563 1141L579 1172M563 1141L533 1159M563 1141L468 1197"/>
<path d="M639 1143L621 1168M639 1143L652 1188M639 1143L517 1205M639 1143L579 1172M639 1143L601 1206M639 1143L468 1197M420 1164L468 1197M420 1164L481 1166"/>
<path d="M533 1159L517 1205M533 1159L579 1172M533 1159L468 1197M481 1166L468 1197M481 1166L517 1205M481 1166L579 1172M481 1166L549 1202"/>
<path d="M579 1172L621 1168M579 1172L549 1202M579 1172L517 1205M579 1172L601 1206M621 1168L652 1188M621 1168L601 1206M621 1168L517 1205M652 1188L601 1206"/>
<path d="M468 1197L517 1205M468 1197L549 1202M468 1197L601 1206M517 1205L549 1202M549 1202L601 1206"/>
</g>
<g id="p8-KHSRP" class="n gl"><circle cx="515" cy="965" r="12.5"/><text x="515" y="965">KHSRP</text></g>
<g id="p8-RASGRP2" class="n gy"><circle cx="586" cy="972" r="12.5"/><text x="586" y="972">RASGRP2</text></g>
<g id="p8-RASGRP1" class="n gy"><circle cx="469" cy="981" r="12.5"/><text x="469" y="981">RASGRP1</text></g>
<g id="p8-RAPGEF3" class="n gy"><circle cx="539" cy="988" r="12.5"/><text x="539" y="988">RAPGEF3</text></g>
<g id="p8-RAPGEF4" class="n gy"><circle cx="639" cy="983" r="12.5"/><text x="639" y="983">RAPGEF4</text></g>
<g id="p8-TUBB6" class="n gl"><circle cx="431" cy="1004" r="12.5"/><text x="431" y="1004">TUBB6</text></g>
<g id="p8-RAP1A" class="n gy"><circle cx="621" cy="1007" r="12.5"/><text x="621" y="1007">RAP1A</text></g>
<g id="p8-EIF6" class="n gl"><circle cx="679" cy="1013" r="12.5"/><text x="679" y="1013">EIF6</text></g>
<g id="p8-CSK" class="n gy"><circle cx="511" cy="1022" r="12.5"/><text x="511" y="1022">CSK</text></g>
<g id="p8-APBB1IP" class="n gy"><circle cx="549" cy="1018" r="12.5"/><text x="549" y="1018">APBB1IP</text></g>
<g id="p8-TLN1" class="n gy"><circle cx="586" cy="1022" r="12.5"/><text x="586" y="1022">TLN1</text></g>
<g id="p8-PTK2" class="n gy"><circle cx="468" cy="1027" r="12.5"/><text x="468" y="1027">PTK2</text></g>
<g id="p8-PDPK1" class="n gy"><circle cx="408" cy="1040" r="12.5"/><text x="408" y="1040">PDPK1</text></g>
<g id="p8-RAP1B" class="n gy"><circle cx="673" cy="1051" r="12.5"/><text x="673" y="1051">RAP1B</text></g>
<g id="p8-PTPN1" class="n gy"><circle cx="447" cy="1058" r="12.5"/><text x="447" y="1058">PTPN1</text></g>
<g id="p8-SRC" class="n gy"><circle cx="494" cy="1059" r="12.5"/><text x="494" y="1059">SRC</text></g>
<g id="p8-SOS1" class="n gy"><circle cx="576" cy="1054" r="12.5"/><text x="576" y="1054">SOS1</text></g>
<g id="p8-BCAR1" class="n gy"><circle cx="532" cy="1062" r="12.5"/><text x="532" y="1062">BCAR1</text></g>
<g id="p8-CRK" class="n gy"><circle cx="628" cy="1061" r="12.5"/><text x="628" y="1061">CRK</text></g>
<g id="p8-FGG" class="n gy"><circle cx="683" cy="1082" r="12.5"/><text x="683" y="1082">FGG</text></g>
<g id="p8-DPYSL2" class="n gl"><circle cx="403" cy="1089" r="12.5"/><text x="403" y="1089">DPYSL2</text></g>
<g id="p8-ITGA2B" class="n rd"><circle cx="586" cy="1092" r="12.5"/><text x="586" y="1092">ITGA2B</text></g>
<g id="p8-GRB2" class="n gy"><circle cx="450" cy="1096" r="12.5"/><text x="450" y="1096">GRB2</text></g>
<g id="p8-AKT1" class="n gy"><circle cx="489" cy="1100" r="12.5"/><text x="489" y="1100">AKT1</text></g>
<g id="p8-SHC1" class="n gy"><circle cx="555" cy="1102" r="12.5"/><text x="555" y="1102">SHC1</text></g>
<g id="p8-FGA" class="n rd"><circle cx="634" cy="1102" r="12.5"/><text x="634" y="1102">FGA</text></g>
<g id="p8-ADRA2B" class="n gy"><circle cx="671" cy="1116" r="12.5"/><text x="671" y="1116">ADRA2B</text></g>
<g id="p8-CLTC" class="n gl"><circle cx="403" cy="1124" r="12.5"/><text x="403" y="1124">CLTC</text></g>
<g id="p8-FN1" class="n gy"><circle cx="513" cy="1127" r="12.5"/><text x="513" y="1127">FN1</text></g>
<g id="p8-LMNA" class="n gl"><circle cx="601" cy="1128" r="12.5"/><text x="601" y="1128">LMNA</text></g>
<g id="p8-SYK" class="n gy"><circle cx="449" cy="1138" r="12.5"/><text x="449" y="1138">SYK</text></g>
<g id="p8-SARNP" class="n gl"><circle cx="563" cy="1141" r="12.5"/><text x="563" y="1141">SARNP</text></g>
<g id="p8-VWF" class="n rd"><circle cx="639" cy="1143" r="12.5"/><text x="639" y="1143">VWF</text></g>
<g id="p8-ADRA2A" class="n gy"><circle cx="689" cy="1149" r="12.5"/><text x="689" y="1149">ADRA2A</text></g>
<g id="p8-IMPDH2" class="n gl"><circle cx="420" cy="1164" r="12.5"/><text x="420" y="1164">IMPDH2</text></g>
<g id="p8-HMGB1" class="n gl"><circle cx="533" cy="1159" r="12.5"/><text x="533" y="1159">HMGB1</text></g>
<g id="p8-MPL" class="n gy"><circle cx="481" cy="1166" r="12.5"/><text x="481" y="1166">MPL</text></g>
<g id="p8-GP9" class="n gy"><circle cx="579" cy="1172" r="12.5"/><text x="579" y="1172">GP9</text></g>
<g id="p8-F2" class="n rd"><circle cx="621" cy="1168" r="12.5"/><text x="621" y="1168">F2</text></g>
<g id="p8-GP5" class="n gy"><circle cx="652" cy="1188" r="12.5"/><text x="652" y="1188">GP5</text></g>
<g id="p8-THPO" class="n gy"><circle cx="468" cy="1197" r="12.5"/><text x="468" y="1197">THPO</text></g>
<g id="p8-GP1BA" class="n rd"><circle cx="517" cy="1205" r="12.5"/><text x="517" y="1205">GP1BA</text></g>
<g id="p8-GP1BB" class="n gy"><circle cx="549" cy="1202" r="12.5"/><text x="549" y="1202">GP1BB</text></g>
<g id="p8-FGB" class="n rd"><circle cx="601" cy="1206" r="12.5"/><text x="601" y="1206">FGB</text></g>
<text class="cap" x="547" y="1244.5" textLength="251" lengthAdjust="spacingAndGlyphs">PLATELET AGGREGATION PLUG FORMATION</text>
</g>
</svg>
